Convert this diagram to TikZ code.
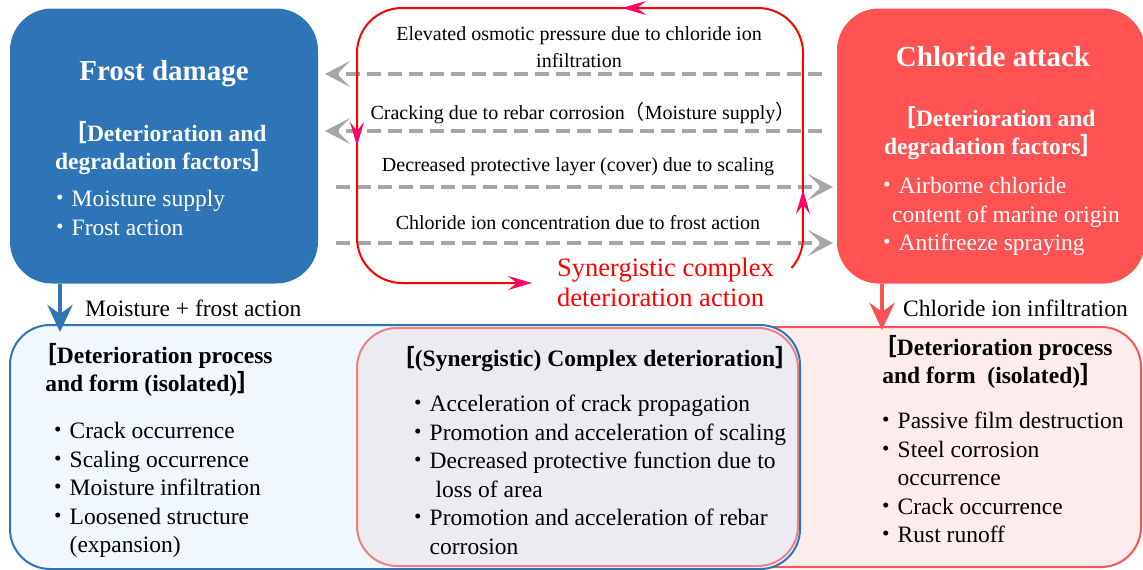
\documentclass[tikz,border=0pt]{standalone}
\usepackage{fontspec}
\setmainfont{Liberation Serif}
\newfontfamily\cjk{Noto Sans CJK JP}
\usetikzlibrary{positioning, arrows.meta, calc}
\definecolor{frostblue}{RGB}{46,116,182}
\definecolor{chlorred}{RGB}{255,82,82}
\definecolor{frostpale}{RGB}{240,247,253}
\definecolor{chlorpale}{RGB}{253,236,236}
\definecolor{mixpale}{RGB}{236,235,241}
\definecolor{mixedge}{RGB}{238,128,132}
\definecolor{loopred}{RGB}{255,0,0}
\definecolor{loopmark}{RGB}{255,0,102}
\definecolor{dashgray}{RGB}{166,166,166}
\newcommand{\bul}{{\cjk ・}}
\newcommand{\lbr}{{\cjk ［}}
\newcommand{\rbr}{{\cjk ］}}
\tikzset{
  loopmarker/.tip={Stealth[length=24pt, width=14pt, inset=9pt, color=loopmark]},
  factorbox/.style={rectangle, rounded corners=42pt, minimum width=308pt, minimum height=275pt, inner sep=0pt, outer sep=0pt},
  formbox/.style={rectangle, rounded corners=40pt, line width=2pt, inner sep=0pt, outer sep=0pt},
  boxtitle/.style={font=\bfseries\fontsize{29}{34}\selectfont, text=white, inner sep=0pt, anchor=base},
  heading/.style={font=\bfseries\fontsize{23.5}{28.5}\selectfont, align=center, inner sep=0pt, anchor=north},
  items/.style={font=\fontsize{23.5}{28.5}\selectfont, align=left, inner sep=0pt, anchor=north west},
  effect/.style={font=\fontsize{20}{27}\selectfont, align=center, inner sep=0pt},
  influence/.style={draw=dashgray, line width=4pt, dash pattern=on 14pt off 7pt, -{Stealth[length=25pt, width=26pt, inset=13pt]}},
  drop/.style={line width=4.5pt, -{Stealth[length=27pt, width=25pt, inset=9pt]}},
  synloop/.style={draw=loopred, line width=2pt, -loopmarker}
}

\begin{document}
\begin{tikzpicture}[x=1pt, y=-1pt]
  \useasboundingbox (0,0) rectangle (1143,570);

  % Top: the two single deteriorations
  \node[factorbox, fill=frostblue] (frost) at (164,146) {};
  \node[factorbox, fill=chlorred] (chloride) at (991,146) {};
  \node[boxtitle] (frosttitle) at (164,80) {Frost damage};
  \node[boxtitle] (chloridetitle) at (993,66) {Chloride attack};
  \node[heading, text=white] (frostfactors) at (165,121) {\lbr Deterioration and\\degradation factors\rbr};
  \node[heading, text=white] (chloridefactors) at (994,106) {\lbr Deterioration and\\degradation factors\rbr};
  \node[items, text=white] (frostitems) at (48,190) {\bul Moisture supply\\\bul Frost action};
  \node[items, text=white] (chlorideitems) at (875,177) {\bul Airborne chloride\\\hspace*{17pt}content of marine origin\\\bul Antifreeze spraying};

  % Mutual influences between the boxes
  \node[effect, anchor=north] (osmotic) at (579,26) {Elevated osmotic pressure due to chloride ion\\infiltration};
  \node[effect, anchor=base] (cracking) at (583,119) {Cracking due to rebar corrosion{\cjk （}Moisture supply{\cjk ）}};
  \node[effect, anchor=base] (scaling) at (578,171) {Decreased protective layer (cover) due to scaling};
  \node[effect, anchor=base] (concentration) at (578,229) {Chloride ion concentration due to frost action};
  \coordinate (row1) at (0,74);
  \coordinate (row2) at (0,131);
  \coordinate (row3) at (0,187);
  \coordinate (row4) at (0,243);
  \draw[influence, shorten <=15pt, shorten >=7pt] (chloride.west |- row1) -- (frost.east |- row1);
  \draw[influence, shorten <=15pt, shorten >=7pt] (chloride.west |- row2) -- (frost.east |- row2);
  \draw[influence, shorten <=18pt, shorten >=4pt] (frost.east |- row3) -- (chloride.west |- row3);
  \draw[influence, shorten <=18pt, shorten >=4pt] (frost.east |- row4) -- (chloride.west |- row4);

  % Synergy loop
  \coordinate (loopstart) at (791.5,268);
  \coordinate (loopne) at (803,8);
  \coordinate (loopnw) at (357,8);
  \coordinate (loopsw) at (357,283);
  \coordinate (loopend) at (532,283);
  \draw[synloop] (loopstart) arc[start angle=41.8, end angle=0, radius=45]
    [rounded corners=45pt] -- (loopne) -- (loopnw) -- (loopsw) -- (loopend);
  \draw[synloop] (803,218) -- (803,190);
  \draw[synloop] (650,8) -- (622,8);
  \draw[synloop] (357,118) -- (357,146);
  \node[font=\fontsize{26.5}{30}\selectfont, text=loopred, align=left, inner sep=0pt, anchor=north west] (synergy) at (557,258) {Synergistic complex\\deterioration action};

  % Bottom: deterioration processes
  \node[formbox, draw=chlorred, fill=chlorpale, minimum width=776pt, minimum height=240pt] (chlorideform) at (753,447) {};
  \node[formbox, fill=frostpale, minimum width=790pt, minimum height=244pt] (frostform) at (405,447) {};
  \node[formbox, draw=mixedge, fill=mixpale, minimum width=441pt, minimum height=238pt] (mixform) at (577.5,447) {};
  \draw[frostblue, line width=2pt, rounded corners=40pt] (frostform.north west) rectangle (frostform.south east);

  \coordinate (frostdrop) at (60,300);
  \coordinate (chloridedrop) at (882,300);
  \draw[drop, frostblue, shorten >=-7pt] (frost.south -| frostdrop) -- (frostform.north -| frostdrop);
  \draw[drop, chlorred, shorten >=-3pt] (chloride.south -| chloridedrop) -- (chlorideform.north -| chloridedrop);
  \node[items, anchor=base west] (frostpath) at (85,316) {Moisture + frost action};
  \node[items, anchor=base west] (chloridepath) at (903,316) {Chloride ion infiltration};

  \node[heading] (frostprocess) at (153,343) {\lbr Deterioration process\\and form (isolated)\rbr};
  \node[items] (frostforms) at (46,422) {\bul Crack occurrence\\\bul Scaling occurrence\\\bul Moisture infiltration\\\bul Loosened structure\\\hphantom{\bul}(expansion)};
  \node[heading] (mixprocess) at (595,346) {\lbr(Synergistic) Complex deterioration\rbr};
  \node[items] (mixforms) at (406,395) {\bul Acceleration of crack propagation\\\bul Promotion and acceleration of scaling\\\bul Decreased protective function due to\\\hphantom{\bul}\hspace*{6pt}loss of area\\\bul Promotion and acceleration of rebar\\\hphantom{\bul}corrosion};
  \node[heading] (chlorideprocess) at (993,335) {\lbr Deterioration process\\and form~ (isolated)\rbr};
  \node[items] (chlorideforms) at (874,412) {\bul Passive film destruction\\\bul Steel corrosion\\\hphantom{\bul}occurrence\\\bul Crack occurrence\\\bul Rust runoff};
\end{tikzpicture}
\end{document}
